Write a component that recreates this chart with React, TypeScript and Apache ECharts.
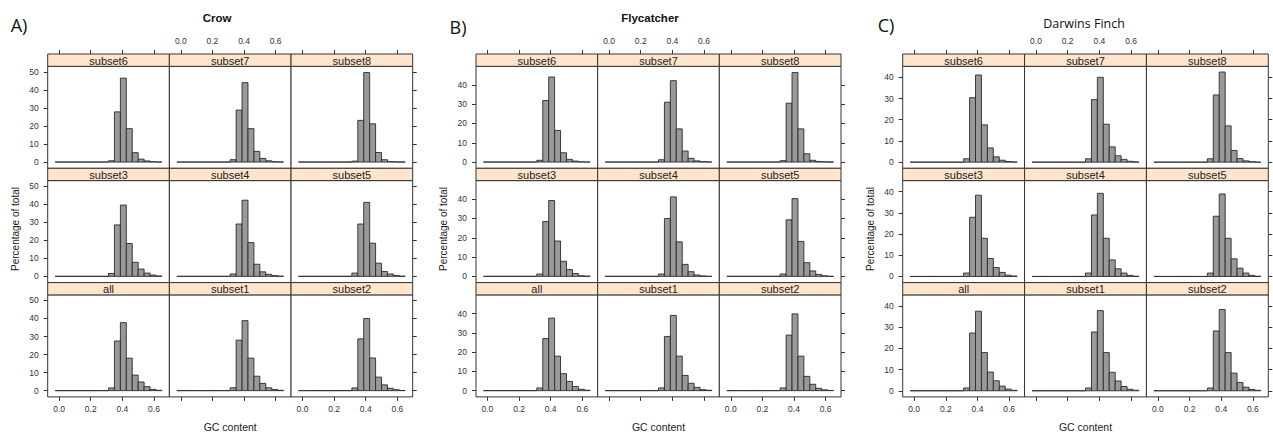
import React, { useEffect, useRef } from "react";
import * as echarts from "echarts";

// Histogram bin edges (GC content)
const BIN_EDGES = [
  -0.025, 0.0125, 0.05, 0.0875, 0.125, 0.1625, 0.2, 0.2375, 0.275, 0.3125,
  0.35, 0.3875, 0.425, 0.4625, 0.5, 0.5375, 0.575, 0.6125, 0.65,
];
const X_TICKS = [0, 0.2, 0.4, 0.6];
const PANEL_ROWS = [
  ["subset6", "subset7", "subset8"],
  ["subset3", "subset4", "subset5"],
  ["all", "subset1", "subset2"],
];

// Crow (percentage of total per bin)
const CROW_SUBSET6 = [0, 0, 0, 0, 0, 0, 0, 0, 0, 0.7, 27.8, 46.5, 18.5, 5.2, 1.6, 0.6, 0.2, 0];
const CROW_SUBSET7 = [0, 0, 0, 0, 0, 0, 0, 0, 0, 1.3, 28.8, 44.0, 18.5, 5.9, 2.0, 0.7, 0.2, 0];
const CROW_SUBSET8 = [0, 0, 0, 0, 0, 0, 0, 0, 0, 0.5, 23.1, 49.6, 21.2, 5.3, 1.3, 0.3, 0.1, 0];
const CROW_SUBSET3 = [0, 0, 0, 0, 0, 0, 0, 0, 0, 1.6, 28.5, 39.5, 18.2, 7.8, 4.0, 1.8, 0.7, 0.2];
const CROW_SUBSET4 = [0, 0, 0, 0, 0, 0, 0, 0, 0, 1.3, 29.0, 42.2, 18.7, 6.7, 2.5, 1.1, 0.4, 0.1];
const CROW_SUBSET5 = [0, 0, 0, 0, 0, 0, 0, 0, 0, 1.8, 29.0, 41.0, 18.4, 7.3, 2.7, 1.3, 0.5, 0.1];
const CROW_ALL = [0, 0, 0, 0, 0, 0, 0, 0, 0, 1.5, 27.5, 37.7, 18.0, 8.6, 4.8, 2.2, 0.7, 0.2];
const CROW_SUBSET1 = [0, 0, 0, 0, 0, 0, 0, 0, 0, 1.6, 28.0, 38.8, 18.0, 8.0, 4.0, 1.6, 0.6, 0.2];
const CROW_SUBSET2 = [0, 0, 0, 0, 0, 0, 0, 0, 0, 1.5, 28.7, 40.0, 18.1, 7.5, 3.2, 1.3, 0.5, 0.1];

// Flycatcher
const FLY_SUBSET6 = [0, 0, 0, 0, 0, 0, 0, 0, 0, 0.9, 31.9, 44.1, 16.4, 4.8, 1.4, 0.5, 0.1, 0];
const FLY_SUBSET7 = [0, 0, 0, 0, 0, 0, 0, 0, 0, 1.2, 31.0, 42.2, 17.2, 5.7, 1.9, 0.6, 0.2, 0];
const FLY_SUBSET8 = [0, 0, 0, 0, 0, 0, 0, 0, 0, 0.7, 30.5, 46.4, 17.2, 4.3, 0.9, 0.3, 0.1, 0];
const FLY_SUBSET3 = [0, 0, 0, 0, 0, 0, 0, 0, 0, 1.2, 28.4, 39.3, 18.3, 7.8, 3.5, 1.5, 0.3, 0.1];
const FLY_SUBSET4 = [0, 0, 0, 0, 0, 0, 0, 0, 0, 1.2, 30.0, 41.2, 17.9, 6.2, 2.4, 0.7, 0.2, 0];
const FLY_SUBSET5 = [0, 0, 0, 0, 0, 0, 0, 0, 0, 1.2, 29.3, 40.3, 18.1, 7.1, 2.8, 1.0, 0.3, 0];
const FLY_ALL = [0, 0, 0, 0, 0, 0, 0, 0, 0, 1.4, 27.0, 37.6, 17.9, 8.8, 4.8, 2.2, 0.7, 0.2];
const FLY_SUBSET1 = [0, 0, 0, 0, 0, 0, 0, 0, 0, 1.4, 28.1, 39.0, 17.9, 7.9, 3.8, 1.7, 0.5, 0.2];
const FLY_SUBSET2 = [0, 0, 0, 0, 0, 0, 0, 0, 0, 1.4, 28.8, 39.8, 17.9, 7.4, 3.3, 1.2, 0.4, 0.1];

// Darwins Finch
const FINCH_SUBSET6 = [0, 0, 0, 0, 0, 0, 0, 0, 0, 1.6, 30.4, 41.1, 17.6, 6.7, 2.5, 0.9, 0.3, 0.1];
const FINCH_SUBSET7 = [0, 0, 0, 0, 0, 0, 0, 0, 0, 1.6, 29.5, 40.0, 17.9, 7.2, 3.0, 1.3, 0.4, 0.1];
const FINCH_SUBSET8 = [0, 0, 0, 0, 0, 0, 0, 0, 0, 1.6, 31.7, 42.5, 17.1, 5.5, 1.7, 0.6, 0.2, 0];
const FINCH_SUBSET3 = [0, 0, 0, 0, 0, 0, 0, 0, 0, 1.6, 27.9, 38.3, 18.0, 8.5, 4.2, 1.9, 0.6, 0.2];
const FINCH_SUBSET4 = [0, 0, 0, 0, 0, 0, 0, 0, 0, 1.6, 29.0, 39.2, 18.0, 7.8, 3.6, 1.6, 0.5, 0.1];
const FINCH_SUBSET5 = [0, 0, 0, 0, 0, 0, 0, 0, 0, 1.6, 28.4, 38.9, 18.0, 8.3, 3.9, 1.6, 0.5, 0.1];
const FINCH_ALL = [0, 0, 0, 0, 0, 0, 0, 0, 0, 1.3, 27.2, 37.5, 18.0, 8.8, 4.7, 2.2, 0.8, 0.2];
const FINCH_SUBSET1 = [0, 0, 0, 0, 0, 0, 0, 0, 0, 1.3, 27.7, 37.8, 18.0, 8.7, 4.6, 2.0, 0.7, 0.2];
const FINCH_SUBSET2 = [0, 0, 0, 0, 0, 0, 0, 0, 0, 1.3, 28.2, 38.3, 18.0, 8.3, 3.9, 1.7, 0.6, 0.2];

const Y_TICKS_CROW = [0, 10, 20, 30, 40, 50];
const Y_TICKS_FLY = [0, 10, 20, 30, 40];
const Y_TICKS_FINCH = [0, 10, 20, 30, 40];

const XLIM = [-0.0722, 0.6972];

const PLOTS = [
  {
    title: "Crow", tag: "A)", bold: true,
    data: [[CROW_SUBSET6, CROW_SUBSET7, CROW_SUBSET8], [CROW_SUBSET3, CROW_SUBSET4, CROW_SUBSET5], [CROW_ALL, CROW_SUBSET1, CROW_SUBSET2]],
    yTicks: Y_TICKS_CROW, ylim: [-3.47, 53.07],
    left: 47.7, width: 365, titleX: 217, titleY: 18, tagX: 19, tagY: 25, ylabX: 15,
  },
  {
    title: "Flycatcher", tag: "B)", bold: true,
    data: [[FLY_SUBSET6, FLY_SUBSET7, FLY_SUBSET8], [FLY_SUBSET3, FLY_SUBSET4, FLY_SUBSET5], [FLY_ALL, FLY_SUBSET1, FLY_SUBSET2]],
    yTicks: Y_TICKS_FLY, ylim: [-3.25, 49.65],
    left: 476, width: 365, titleX: 650, titleY: 18, tagX: 458, tagY: 27, ylabX: 443,
  },
  {
    title: "Darwins Finch", tag: "C)", bold: false,
    data: [[FINCH_SUBSET6, FINCH_SUBSET7, FINCH_SUBSET8], [FINCH_SUBSET3, FINCH_SUBSET4, FINCH_SUBSET5], [FINCH_ALL, FINCH_SUBSET1, FINCH_SUBSET2]],
    yTicks: Y_TICKS_FINCH, ylim: [-2.9, 45.2],
    left: 902.7, width: 365.6, titleX: 1084, titleY: 23, tagX: 886, tagY: 25, ylabX: 870,
  },
];

const TOP = 54;
const STRIP_H = 12.3;
const PANEL_H = 102;
const FONT = "Liberation Sans, Arial, sans-serif";
const TAG_FONT = "Open Sans, Noto Sans, sans-serif";
const LINE = "#333";

function buildOption() {
  const grid: any[] = [];
  const xAxis: any[] = [];
  const yAxis: any[] = [];
  const series: any[] = [];
  const graphic: any[] = [];
  let idx = 0;

  PLOTS.forEach((p) => {
    const colW = p.width / 3;
    for (let r = 0; r < 3; r++) {
      for (let c = 0; c < 3; c++) {
        const left = p.left + c * colW;
        const stripTop = TOP + r * (STRIP_H + PANEL_H);
        const top = stripTop + STRIP_H;
        grid.push({
          left, top, width: colW, height: PANEL_H,
          show: true, borderColor: LINE, borderWidth: 1, backgroundColor: "#fff",
        });
        xAxis.push({
          gridIndex: idx, type: "value", min: XLIM[0], max: XLIM[1],
          show: r !== 1,
          position: r === 0 ? "top" : "bottom",
          offset: r === 0 ? STRIP_H : 0,
          axisLine: { show: false, onZero: false },
          splitLine: { show: false },
          axisTick: { show: true, length: 4, customValues: X_TICKS, lineStyle: { color: LINE, width: 1 } },
          axisLabel: {
            show: r === 0 ? c === 1 : c !== 1,
            customValues: X_TICKS,
            formatter: (v: number) => v.toFixed(1),
            fontSize: 8.5, color: "#333", fontFamily: FONT, margin: r === 0 ? 9 : 8,
          },
        });
        yAxis.push({
          gridIndex: idx, type: "value", min: p.ylim[0], max: p.ylim[1],
          show: c !== 1,
          position: c === 0 ? "left" : "right",
          axisLine: { show: false, onZero: false },
          splitLine: { show: false },
          axisTick: { show: true, length: 4, customValues: p.yTicks, lineStyle: { color: LINE, width: 1 } },
          axisLabel: {
            show: c === 0,
            customValues: p.yTicks,
            formatter: (v: number) => String(v),
            fontSize: 8.5, color: "#333", fontFamily: FONT, margin: 9,
          },
        });
        const vals = p.data[r][c];
        series.push({
          type: "custom",
          xAxisIndex: idx, yAxisIndex: idx,
          encode: { x: [0, 1], y: 2 },
          data: vals.map((v: number, k: number) => [BIN_EDGES[k], BIN_EDGES[k + 1], v]),
          renderItem: (params: any, api: any) => {
            const a = api.coord([api.value(0), 0]);
            const b = api.coord([api.value(1), api.value(2)]);
            return {
              type: "polygon",
              shape: { points: [[a[0], a[1]], [b[0], a[1]], [b[0], b[1]], [a[0], b[1]]] },
              style: { fill: "#999999", stroke: "#2a2a2a", lineWidth: 0.9 },
            };
          },
        });
        graphic.push({
          type: "rect",
          shape: { x: left, y: stripTop, width: colW, height: STRIP_H },
          style: { fill: "#ffe5cc", stroke: LINE, lineWidth: 1 },
          z: 10,
        });
        graphic.push({
          type: "text",
          x: left + colW / 2, y: stripTop + STRIP_H / 2 + 0.5,
          style: {
            text: PANEL_ROWS[r][c], fontSize: 11, fontFamily: FONT, fill: "#222",
            align: "center", verticalAlign: "middle", textAlign: "center", textVerticalAlign: "middle",
          },
          z: 11,
        });
        idx++;
      }
    }
    // title
    graphic.push({
      type: "text", x: p.titleX, y: p.titleY,
      style: {
        text: p.title,
        fontSize: p.bold ? 11.5 : 12.5,
        fontWeight: p.bold ? "bold" : "normal",
        fontFamily: p.bold ? FONT : TAG_FONT,
        fill: "#111",
        align: "center", verticalAlign: "middle", textAlign: "center", textVerticalAlign: "middle",
      },
    });
    graphic.push({
      type: "text", x: p.tagX, y: p.tagY,
      style: {
        text: p.tag, fontSize: 18, fontFamily: TAG_FONT, fill: "#111",
        align: "center", verticalAlign: "middle", textAlign: "center", textVerticalAlign: "middle",
      },
    });
    graphic.push({
      type: "text", x: p.ylabX, y: 229, rotation: Math.PI / 2,
      style: {
        text: "Percentage of total", fontSize: 10, fontFamily: FONT, fill: "#222",
        align: "center", verticalAlign: "middle", textAlign: "center", textVerticalAlign: "middle",
      },
    });
    graphic.push({
      type: "text", x: p.left + p.width / 2, y: 427,
      style: {
        text: "GC content", fontSize: 10.5, fontFamily: FONT, fill: "#222",
        align: "center", verticalAlign: "middle", textAlign: "center", textVerticalAlign: "middle",
      },
    });
  });

  return { animation: false, backgroundColor: "#fff", grid, xAxis, yAxis, series, graphic };
}

export default function App() {
  const ref = useRef<HTMLDivElement>(null);
  useEffect(() => {
    if (!ref.current) return;
    const chart = echarts.init(ref.current, undefined, { renderer: "svg" });
    chart.setOption(buildOption() as any);
    return () => chart.dispose();
  }, []);
  return (
    <div
      ref={ref}
      style={{ position: "fixed", left: 0, top: 0, width: 1273, height: 437, background: "#fff" }}
    />
  );
}
